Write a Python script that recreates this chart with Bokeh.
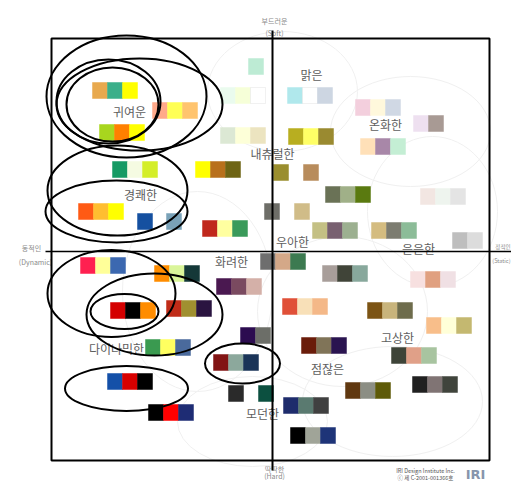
from bokeh.plotting import figure
from bokeh.models import Range1d
from bokeh.core.properties import value
from bokeh.embed import file_html
from bokeh.resources import INLINE

# ---- data: image-scale positions (x: dynamic(-) .. static(+), y: hard(-) .. soft(+)) ----
group_x = [-172.5, -112.5, -165.5, -16.5, -44.5, 22.5, 90.5, 148.5, 95.5, -44.5,
           23.5, -69.5, -152.5, -186.5, -127.5, -98.5, -62.5, 8.5, 60.5, 155.5,
           -0.5, 47.5, 106.5, 187.5, -184.5, -110.5, -48.5, -4.5, 57.5, 145.5,
           17.5, 102.5, 161.5, 126.5, 36.5, -154.5, -98.5, -24.5, -119.5, -51.5,
           -36.5, 18.5, 25.5, 80.5, 147.5, -157.5, -116.5]
group_y = [161, 141, 119, 185, 156, 156, 144, 128, 105, 116,
           115, 82, 82, 40, 30, 30, 23, 79, 57, 55,
           40, 21, 21, 11, -14, -22, -35, -10, -22, -28,
           -55, -59, -74, -104, -94, -59, -57, -84, -96, -111,
           -142, -154, -184, -139, -133, -130, -161]
group_colors = [
    "#E8A94E #3BAF8A #FFFF00", "#FFA98A #FFFF55 #FFC46E", "#A8D61E #FF8000 #FFFF00",
    "#BDEBD4", "#EAFBEE #F6FFD8 #FFFFFF", "#B0E8EC #FFFFFF #CDD6E2",
    "#F3CFDD #FFF8DC #D0D8E4", "#EEE0F0 #A89A94", "#FFE0B8 #A887A8 #C4EED4",
    "#DCE8D4 #FDFFD8 #ECE4C0", "#B8AE20 #FFFF66 #9A8A30", "#FFFF00 #B8701C #6E6414",
    "#169A64 #F5FBE2 #D4EE2A", "#FF5A14 #FFBE30 #FFFF00", "#1550A0", "#7AA2B8",
    "#C0281C #FFFFA0 #3A9A5A", "#9A8E2E - #B88C5C", "#6A7256 #A0B088 #5A7A10",
    "#F2E6E2 #EEF4EE #E4E4E4", "#6E6E68 - #D0BC88", "#C4C084 #786070 #9CB090",
    "#D4BC80 #7C7C70 #8CBC98", "#BEBEBE #DCDCDC", "#FF2050 #FFFF99 #3C68B0",
    "#FF8C00 #DAF59A #143838", "#4A1850 #7A4A60 #D4B0A8", "#6E6E6E #D4A888 #3C7A50",
    "#A89E9A #404438 #88A89C", "#F7E0E0 #E0A080 #F0E0E4", "#E05038 #F8E0B8 #F4B888",
    "#7C5414 #C8B47C #6E6C4C", "#F8BE8A #FFFFD8 #C4B870", "#3E4438 #E0A088 #A8C4A0",
    "#6A1C0A #807458 #2A1450", "#D40000 #000000 #FF8C00", "#C02C18 #A09030 #2A1440",
    "#2C0C50 #6C6E68", "#3A9A50 #FFFF60 #4A6A9C", "#821414 #8CA89C #1A3458",
    "#2A2A2A - #0C5040", "#1E2C6C #5A7A70 #404040", "#000000 #A0A498 #1E3478",
    "#603810 #8C8E84 #5E5A08", "#202020 #807474 #40443C", "#1450A8 #D80000 #000000",
    "#000000 #FF0000 #1E2C74",
]

label_text = ["귀여운", "맑은", "온화한", "내츄럴한", "경쾌한", "우아한", "은은한",
              "화려한", "고상한", "점잖은", "다이나믹한", "모던한"]
label_x = [-143, 39, 113, 0, -132, 20, 146, -41, 125, 55, -156, -10]
label_y = [140, 177, 127, 98, 57, 10, 3, -10, -86, -117, -97, -162]

axis_text = ["부드러운", "(Soft)", "동적인", "(Dynamic)", "딱딱한", "(Hard)"]
axis_x = [2, 2, -241, -237, 2, 2]
axis_y = [231, 219, 4, -10, -217, -224]
static_text = ["정적인", "(Static)"]
static_x = [238, 238]
static_y = [5, -9]

credit_text = ["IRI Design Institute Inc.", "ⓒ 제 C-2001-001366호"]
credit_x = [153, 153]
credit_y = [-219, -226]

# highlighted clusters (black ellipses): centre x, centre y, width, height
ell_x = [-146, -133, -164, -160, -155, -156, -161, -118, -148, -146, -30]
ell_y = [155, 147, 150, 147, 61, 40, -42, -63, -60, -137, -112]
ell_w = [160, 166, 104, 92, 140, 142, 128, 136, 68, 123, 75]
ell_h = [122, 92, 84, 74, 90, 62, 87, 82, 35, 45, 40]

# faint background groupings
faint_x = [10, 138, 160, 70, -75, 120, -20]
faint_y = [160, 120, 40, -60, -40, -150, -170]
faint_w = [150, 160, 130, 170, 150, 180, 150]
faint_h = [120, 110, 150, 150, 200, 110, 90]

frame_l, frame_r, frame_b, frame_t = -221, 217, -209, 213
vaxis_y = [-219, 221]
haxis_x = [-227, 241]

CELL_W, CELL_H = 15, 16

# expand swatch groups into cells
cx, cy, cc, cl = [], [], [], []
for gx, gy, cols in zip(group_x, group_y, group_colors):
    for i, c in enumerate(cols.split()):
        if c == "-":
            continue
        cx.append(gx + i * CELL_W)
        cy.append(gy)
        cc.append(c)
        cl.append("#E2E2E2" if c.upper() == "#FFFFFF" else c)

p = figure(width=511, height=481, x_range=Range1d(-272, 239), y_range=Range1d(-230, 251),
           output_backend="svg", toolbar_location=None, min_border=0,
           x_axis_type=None, y_axis_type=None)
p.grid.visible = False
p.outline_line_color = None
p.background_fill_color = "white"

p.ellipse(x=faint_x, y=faint_y, width=faint_w, height=faint_h,
          fill_color=None, line_color="#F0F0F0", line_width=1)

p.rect(x=cx, y=cy, width=CELL_W, height=CELL_H, fill_color=cc, line_color=cl, line_width=0.5)

font = value("Noto Sans CJK KR")
p.text(x=label_x, y=label_y, text=label_text, text_font=font, text_font_size="12px",
       text_align="center", text_baseline="middle", text_color="#5E5E5E")
p.text(x=axis_x, y=axis_y, text=axis_text, text_font=font, text_font_size="7px",
       text_align="center", text_baseline="middle", text_color="#8A8A8A")
p.text(x=static_x, y=static_y, text=static_text, text_font=font, text_font_size="5.5px",
       text_align="right", text_baseline="middle", text_color="#8A8A8A")

p.text(x=credit_x, y=credit_y, text=credit_text,
       text_font=font, text_font_size="5.5px", text_align="center", text_baseline="middle",
       text_color="#555555")
p.text(x=[203], y=[-223], text=["IRI"], text_font=value("DejaVu Sans"), text_font_size="13px",
       text_font_style="bold", text_align="center", text_baseline="middle", text_color="#8795AC")

# frame and axes
p.quad(left=[frame_l], right=[frame_r], bottom=[frame_b], top=[frame_t],
       fill_color=None, line_color="black", line_width=2)
p.line(x=[0, 0], y=vaxis_y, line_color="black", line_width=2)
p.line(x=haxis_x, y=[0, 0], line_color="black", line_width=1.5)

p.ellipse(x=ell_x, y=ell_y, width=ell_w, height=ell_h,
          fill_color=None, line_color="black", line_width=2)

open("out.html", "w").write(file_html(p, INLINE))
